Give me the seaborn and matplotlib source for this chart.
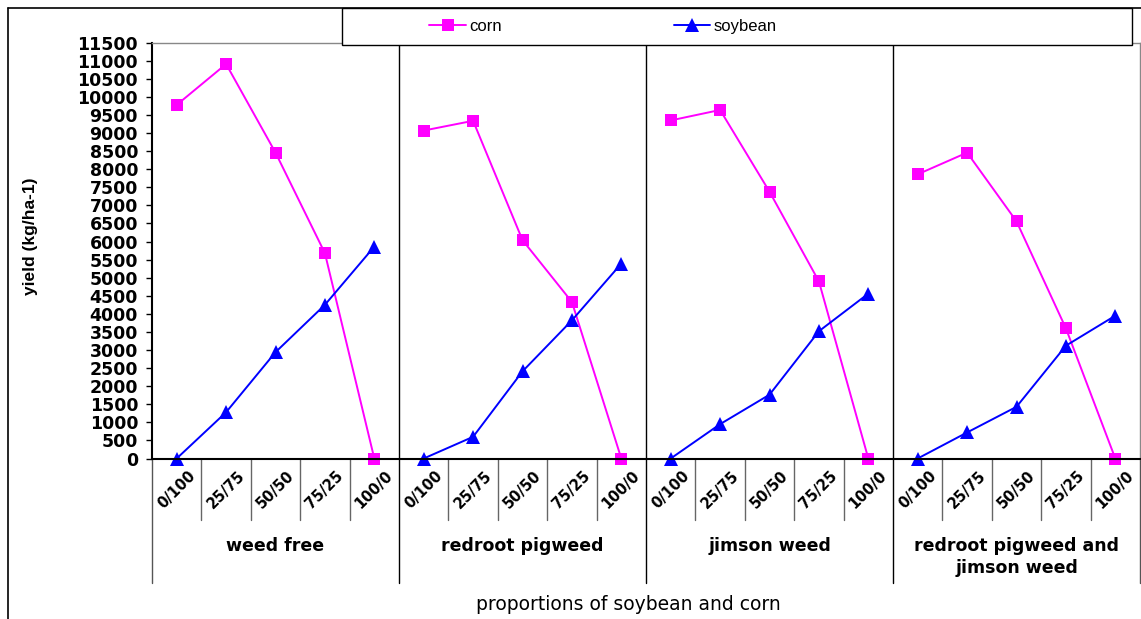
import pandas as pd
import seaborn as sns
import matplotlib
matplotlib.use("Agg")
import matplotlib.pyplot as plt
from matplotlib.lines import Line2D
from matplotlib.patches import Rectangle
import matplotlib.transforms as mtransforms

# values
groups = ["weed free", "redroot pigweed", "jimson weed", "redroot pigweed and\njimson weed"]
proportions = ["0/100", "25/75", "50/50", "75/25", "100/0"]

corn_weed_free = [9780, 10910, 8460, 5680, 0]
corn_redroot = [9070, 9340, 6040, 4330, 0]
corn_jimson = [9350, 9640, 7380, 4900, 0]
corn_both = [7860, 8460, 6560, 3600, 0]

soy_weed_free = [0, 1280, 2940, 4250, 5860]
soy_redroot = [0, 600, 2410, 3820, 5390]
soy_jimson = [0, 950, 1765, 3520, 4560]
soy_both = [0, 720, 1430, 3120, 3950]

corn = [corn_weed_free, corn_redroot, corn_jimson, corn_both]
soy = [soy_weed_free, soy_redroot, soy_jimson, soy_both]

rows = []
for g, name in enumerate(groups):
    for j, p in enumerate(proportions):
        pos = g * 5 + j + 0.5
        rows.append(dict(group=name, prop=p, pos=pos, crop="corn", yld=corn[g][j]))
        rows.append(dict(group=name, prop=p, pos=pos, crop="soybean", yld=soy[g][j]))
df = pd.DataFrame(rows)

sns.set_theme(style="white")
plt.rcParams["font.family"] = ["DejaVu Sans"]
plt.rcParams["text.color"] = "black"
plt.rcParams["ytick.color"] = "black"
plt.rcParams["xtick.color"] = "black"
plt.rcParams["axes.labelcolor"] = "black"

W, H = 1141, 619
fig = plt.figure(figsize=(W / 100, H / 100), dpi=100)
fig.patch.set_facecolor("white")

# axes placed in pixel terms
left, right, top, bottom = 152, 1140, 42.7, 458.5
ax = fig.add_axes([left / W, 1 - bottom / H, (right - left) / W, (bottom - top) / H])

colors = {"corn": "#ff00ff", "soybean": "#0000ff"}
sns.lineplot(data=df, x="pos", y="yld", hue="crop", style="crop", units="group",
             estimator=None, markers={"corn": "s", "soybean": "^"}, dashes=False,
             palette=colors, linewidth=1.4, legend=False, ax=ax, clip_on=False,
             markeredgewidth=0)
for ln in ax.lines:
    if ln.get_marker() == "s":
        ln.set_markersize(8)
    else:
        ln.set_markersize(10)

ax.set_xlim(0, 20)
ax.set_ylim(0, 11500)
ax.set_yticks(range(0, 11501, 500))
ax.set_xticks([])
ax.set_xlabel("")
ax.set_ylabel("")
ax.tick_params(axis="y", which="both", left=True, length=4, width=1, pad=6,
               labelsize=12.5, direction="out", color="black", labelcolor="black")
for lab in ax.get_yticklabels():
    lab.set_fontweight("bold")

for s in ["left", "bottom"]:
    ax.spines[s].set_color("black")
    ax.spines[s].set_linewidth(1.5)
for s in ["top", "right"]:
    ax.spines[s].set_color("#888888")
    ax.spines[s].set_linewidth(1)

trans = mtransforms.blended_transform_factory(ax.transData, ax.transAxes)
gb = -(583 - bottom) / (bottom - top)
tb = -(520 - bottom) / (bottom - top)
# group separators (full height, down into the label area)
for g in range(1, 4):
    ax.plot([g * 5, g * 5], [gb, 1], color="black", lw=1, transform=trans, clip_on=False)
ax.plot([0, 0], [gb, 0], color="#555555", lw=1, transform=trans, clip_on=False)
ax.plot([20, 20], [gb, 0], color="#555555", lw=1, transform=trans, clip_on=False)
# category ticks under the axis
for k in range(1, 20):
    if k % 5:
        ax.plot([k, k], [tb, 0], color="#666666", lw=1, transform=trans, clip_on=False)

yl = -(490 - bottom) / (bottom - top)
for g in range(4):
    for j, p in enumerate(proportions):
        ax.text(g * 5 + j + 0.5, yl, p, transform=trans, rotation=45, ha="center",
                va="center", fontsize=10.5, fontweight="bold", color="black")
    ax.text(g * 5 + 2.5, -(537 - bottom) / (bottom - top), groups[g], transform=trans,
            ha="center", va="top", fontsize=12.5, fontweight="bold", linespacing=1.3,
            color="black")

fig.text(628 / W, 1 - 604 / H, "proportions of soybean and corn", ha="center",
         va="center", fontsize=13.5, color="black")
fig.text(30 / W, 1 - 236 / H, "yield (kg/ha-1)", rotation=90, ha="center", va="center",
         fontsize=12.5, fontweight="bold", family="Liberation Sans", color="black")

# outer frame
fig.add_artist(Line2D([8 / W, 8 / W], [0, 1 - 8 / H], color="black", lw=1.2))
fig.add_artist(Line2D([8 / W, 1], [1 - 8 / H, 1 - 8 / H], color="black", lw=1.2))

# legend box
fig.patches.append(Rectangle((342 / W, 1 - 45 / H), (1132 - 342) / W, 37 / H,
                             transform=fig.transFigure, facecolor="white",
                             edgecolor="black", lw=1, zorder=3))
handles = [Line2D([], [], color=colors["corn"], marker="s", markersize=8, lw=1.4, markeredgewidth=0),
           Line2D([], [], color=colors["soybean"], marker="^", markersize=10, lw=1.4, markeredgewidth=0)]
fig.legend(handles, ["corn", "soybean"], loc="center", bbox_to_anchor=(603 / W, 1 - 26.5 / H),
           ncol=2, frameon=False, handlelength=2.2, handletextpad=0.2, columnspacing=10.3,
           labelcolor="black", prop={"family": "Liberation Sans", "size": 12})

fig.savefig("out.png", dpi=100, facecolor="white")
